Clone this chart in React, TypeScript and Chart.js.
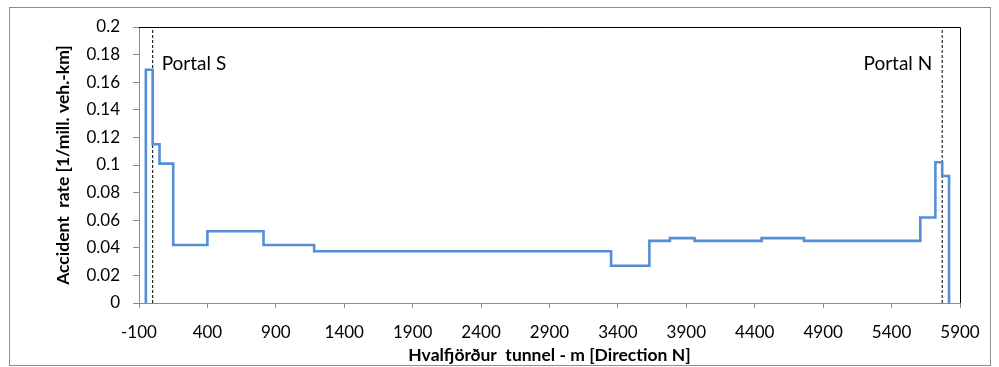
import React, { useEffect, useRef } from "react";
import { Chart, registerables } from "chart.js";

Chart.register(...registerables);

// Segment boundaries along the tunnel (m) and accident rate of each segment
const boundaries = [-50, 0, 50, 150, 400, 810, 1180, 3350, 3630, 3780, 3960, 4450, 4760, 5610, 5720, 5770, 5820];
const rates = [0.169, 0.115, 0.101, 0.042, 0.052, 0.042, 0.0375, 0.027, 0.045, 0.047, 0.045, 0.047, 0.045, 0.062, 0.102, 0.092];
const portals = [
  { name: "Portal S", x: 0 },
  { name: "Portal N", x: 5770 },
];
const xMin = -100;
const xMax = 5900;
const xStep = 500;
const yMin = 0;
const yMax = 0.2;
const yStep = 0.02;
const xTitle = "Hvalfjörður  tunnel - m [Direction N]";
const yTitle = "Accident  rate [1/mill. veh.-km]";

const FONT = "Lato, 'Open Sans', sans-serif";

export default function App() {
  const ref = useRef<HTMLCanvasElement | null>(null);

  useEffect(() => {
    if (!ref.current) return;
    const stepPoints = [{ x: boundaries[0], y: 0 }].concat(
      boundaries.map((b, i) => ({ x: b, y: i < rates.length ? rates[i] : 0 }))
    );
    const portalSets = portals.map((p) => ({
      type: "line" as const,
      data: [
        { x: p.x, y: yMin },
        { x: p.x, y: yMax },
      ],
      borderColor: "#000000",
      borderWidth: 1,
      borderDash: [3, 2],
      pointRadius: 0,
      fill: false,
    }));

    const frame = {
      id: "frame",
      beforeDraw(chart: any) {
        const { ctx } = chart;
        ctx.save();
        ctx.fillStyle = "#ffffff";
        ctx.fillRect(0, 0, chart.width, chart.height);
        ctx.strokeStyle = "#8c8c8c";
        ctx.lineWidth = 1;
        ctx.strokeRect(9.5, 7.5, 981, 358);
        ctx.restore();
      },
      afterDatasetsDraw(chart: any) {
        const { ctx, chartArea: a, scales } = chart;
        ctx.save();
        ctx.strokeStyle = "#000000";
        ctx.lineWidth = 1;
        ctx.beginPath();
        ctx.moveTo(a.left, a.top + 0.5);
        ctx.lineTo(a.right + 0.5, a.top + 0.5);
        ctx.lineTo(a.right + 0.5, a.bottom);
        ctx.stroke();
        ctx.fillStyle = "#000000";
        ctx.font = "19px " + FONT;
        ctx.textBaseline = "middle";
        const ty = 64;
        portals.forEach((p, i) => {
          const px = scales.x.getPixelForValue(p.x);
          if (i === 0) {
            ctx.textAlign = "left";
            ctx.fillText(p.name, px + 9, ty);
          } else {
            ctx.textAlign = "right";
            ctx.fillText(p.name, px - 10, ty);
          }
        });
        ctx.restore();
      },
    };

    const chart = new Chart(ref.current, {
      type: "line",
      data: {
        datasets: [
          {
            data: stepPoints,
            borderColor: "#558ED5",
            borderWidth: 2.6,
            stepped: true,
            pointRadius: 0,
            fill: false,
          } as any,
          ...(portalSets as any[]),
        ],
      },
      options: {
        animation: false,
        responsive: false,
        devicePixelRatio: 1,
        layout: { padding: { left: 10, right: 39, top: 27, bottom: 0 } },
        plugins: { legend: { display: false }, tooltip: { enabled: false } },
        scales: {
          x: {
            type: "linear",
            min: xMin,
            max: xMax,
            afterFit: (s: any) => {
              s.height = 64;
            },
            afterBuildTicks: (s: any) => {
              const t = [];
              for (let v = xMin; v <= xMax; v += xStep) t.push({ value: v });
              s.ticks = t;
            },
            ticks: {
              color: "#000000",
              font: { family: FONT, size: 17 },
              padding: 14,
              maxRotation: 0,
              autoSkip: false,
              callback: (v: any) => String(v),
            },
            grid: {
              display: true,
              drawOnChartArea: false,
              drawTicks: true,
              tickLength: 5,
              color: "#8c8c8c",
            },
            border: { display: true, color: "#8c8c8c", width: 1 },
            title: {
              display: true,
              text: xTitle,
              color: "#000000",
              font: { family: FONT, size: 17.5, weight: "bold" },
              padding: { top: 0, bottom: 1 },
            },
          },
          y: {
            type: "linear",
            min: yMin,
            max: yMax,
            afterFit: (s: any) => {
              s.width = 129;
            },
            afterBuildTicks: (s: any) => {
              const t = [];
              for (let i = 0; i <= Math.round((yMax - yMin) / yStep); i++) t.push({ value: +(yMin + i * yStep).toFixed(2) });
              s.ticks = t;
            },
            ticks: {
              color: "#000000",
              font: { family: FONT, size: 17 },
              padding: 13,
              autoSkip: false,
              callback: (v: any) => String(Number(Number(v).toFixed(2))),
            },
            grid: {
              display: true,
              drawOnChartArea: false,
              drawTicks: true,
              tickLength: 6,
              color: "#8c8c8c",
            },
            border: { display: true, color: "#8c8c8c", width: 1 },
            title: {
              display: true,
              text: yTitle,
              color: "#000000",
              font: { family: FONT, size: 17.5, weight: "bold" },
              padding: { top: 42.5, bottom: 0 },
            },
          },
        },
      },
      plugins: [frame],
    } as any);
    return () => chart.destroy();
  }, []);

  return (
    <canvas
      ref={ref}
      width={999}
      height={367}
      style={{ position: "fixed", left: 0, top: 0, width: 999, height: 367 }}
    />
  );
}
